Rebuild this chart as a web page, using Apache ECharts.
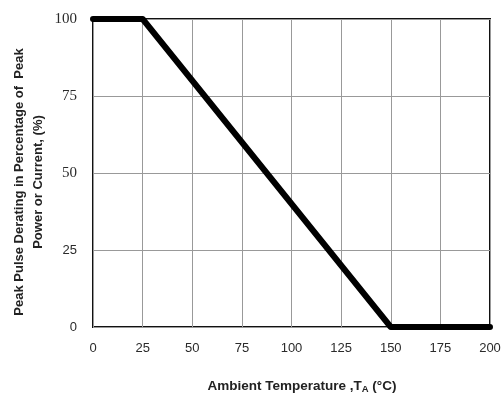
<!DOCTYPE html>
<html>
<head>
<meta charset="utf-8">
<script src="https://cdn.jsdelivr.net/npm/echarts@6/dist/echarts.min.js"></script>
<style>
  html, body { margin: 0; padding: 0; background: #fff; }
  #chart { width: 503px; height: 397px; }
</style>
</head>
<body>
<div id="chart"></div>
<script>
// derating curve (ambient temperature °C, percent of peak)
var temps = [0, 25, 150, 200];
var percents = [100, 100, 0, 0];
var xTicks = [0, 25, 50, 75, 100, 125, 150, 175, 200];
var yTicks = [0, 25, 50, 75, 100];

var chart = echarts.init(document.getElementById('chart'));
var pts = [];
for (var i = 0; i < temps.length; i++) pts.push([temps[i], percents[i]]);

var nameFont = { fontSize: 13, fontWeight: 'bold', fill: '#222', fontFamily: 'Liberation Sans' };

chart.setOption({
  animation: false,
  grid: {
    left: 93, right: 13, top: 19, bottom: 70,
    outerBoundsMode: 'none', containLabel: false,
    show: true, borderColor: '#111', borderWidth: 2
  },
  xAxis: {
    type: 'value', min: 0, max: 200, interval: 25,
    axisLine: { show: false }, axisTick: { show: false },
    splitLine: { lineStyle: { color: '#999', width: 1 } },
    axisLabel: { color: '#2a2a2a', fontSize: 13, fontFamily: 'Liberation Sans', margin: 15 }
  },
  yAxis: {
    type: 'value', min: 0, max: 100, interval: 25,
    axisLine: { show: false }, axisTick: { show: false },
    splitLine: { lineStyle: { color: '#999', width: 1 } },
    axisLabel: {
      margin: 16,
      formatter: function (v) { return v >= 50 ? '{sf|' + v + '}' : '{ss|' + v + '}'; },
      rich: {
        sf: { fontSize: 15, color: '#2a2a2a', fontFamily: 'Liberation Serif' },
        ss: { fontSize: 13, color: '#2a2a2a', fontFamily: 'Liberation Sans' }
      }
    }
  },
  graphic: [
    {
      type: 'text', x: 19, y: 182, rotation: Math.PI / 2,
      style: Object.assign({ text: 'Peak Pulse Derating in Percentage of  Peak', align: 'center', verticalAlign: 'middle' }, nameFont)
    },
    {
      type: 'text', x: 38, y: 182, rotation: Math.PI / 2,
      style: Object.assign({ text: 'Power or Current, (%)', align: 'center', verticalAlign: 'middle' }, nameFont)
    },
    {
      type: 'text', x: 302, y: 386,
      style: {
        text: '{b|Ambient Temperature ,T}{s|A}{b| (°C)}',
        align: 'center', verticalAlign: 'middle',
        rich: {
          b: { fontSize: 13.5, fontWeight: 'bold', fill: '#222', fontFamily: 'Liberation Sans' },
          s: { fontSize: 9.5, fontWeight: 'bold', fill: '#222', fontFamily: 'Liberation Sans', padding: [7, 0, 0, 0] }
        }
      }
    }
  ],
  series: [{
    type: 'line', data: pts, symbol: 'none',
    lineStyle: { color: '#000', width: 6, cap: 'round', join: 'round' }
  }]
});
</script>
</body>
</html>
